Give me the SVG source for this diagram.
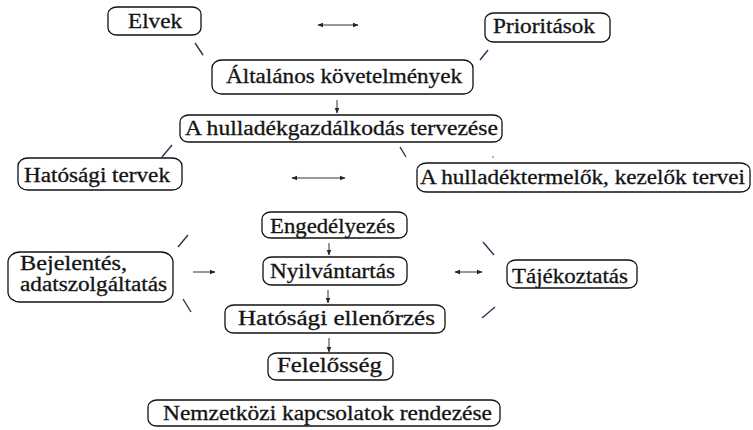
<svg xmlns="http://www.w3.org/2000/svg" width="753" height="430" viewBox="0 0 753 430">
  <defs>
    <marker id="head" viewBox="0 0 10 10" refX="9" refY="5" markerWidth="6" markerHeight="6" orient="auto-start-reverse" markerUnits="userSpaceOnUse">
      <path d="M0,1 L10,5 L0,9 Z" fill="#1a2340"/>
    </marker>
  </defs>
  <style>
    .box { fill: #ffffff; stroke: #111111; stroke-width: 1.3; }
    .lbl { font-family: "Liberation Serif", "Times New Roman", serif; font-size: 20px; fill: #141414; stroke: #141414; stroke-width: 0.3; }
    .tick { stroke: #2a3550; stroke-width: 1.4; fill: none; }
    .arr { stroke: #333333; stroke-width: 1; fill: none; marker-end: url(#head); }
    .arr2 { stroke: #333333; stroke-width: 1; fill: none; marker-start: url(#head); marker-end: url(#head); }
  </style>
  <rect width="753" height="430" fill="#ffffff"/>

  <g id="elvek">
    <rect class="box" x="108" y="7" width="93" height="28" rx="9" ry="7"/>
    <text class="lbl" x="128" y="28" textLength="54" lengthAdjust="spacingAndGlyphs">Elvek</text>
  </g>
  <g id="prioritasok">
    <rect class="box" x="485" y="13" width="125" height="29" rx="9" ry="7"/>
    <text class="lbl" x="493" y="33" textLength="102" lengthAdjust="spacingAndGlyphs">Prioritások</text>
  </g>
  <g id="altalanos">
    <rect class="box" x="212" y="60" width="261" height="34" rx="10" ry="8"/>
    <text class="lbl" x="226" y="83" textLength="236" lengthAdjust="spacingAndGlyphs">Általános követelmények</text>
  </g>
  <g id="tervezes">
    <rect class="box" x="180" y="115" width="322" height="27" rx="9" ry="7"/>
    <text class="lbl" x="185" y="135" textLength="313" lengthAdjust="spacingAndGlyphs">A hulladékgazdálkodás tervezése</text>
  </g>
  <g id="hatosagi-tervek">
    <rect class="box" x="18" y="158" width="164" height="32" rx="10" ry="8"/>
    <text class="lbl" x="24" y="182" textLength="146" lengthAdjust="spacingAndGlyphs">Hatósági tervek</text>
  </g>
  <g id="termelok">
    <rect class="box" x="417" y="163" width="333" height="29" rx="10" ry="7"/>
    <text class="lbl" x="420" y="184" textLength="325" lengthAdjust="spacingAndGlyphs">A hulladéktermelők, kezelők tervei</text>
  </g>
  <g id="engedelyezes">
    <rect class="box" x="262" y="212" width="145" height="26" rx="9" ry="7"/>
    <text class="lbl" x="270" y="233" textLength="125" lengthAdjust="spacingAndGlyphs">Engedélyezés</text>
  </g>
  <g id="nyilvantartas">
    <rect class="box" x="263" y="257" width="144" height="28" rx="9" ry="7"/>
    <text class="lbl" x="270" y="278" textLength="125" lengthAdjust="spacingAndGlyphs">Nyilvántartás</text>
  </g>
  <g id="ellenorzes">
    <rect class="box" x="225" y="305" width="220" height="28" rx="9" ry="7"/>
    <text class="lbl" x="238" y="325" textLength="197" lengthAdjust="spacingAndGlyphs">Hatósági ellenőrzés</text>
  </g>
  <g id="felelosseg">
    <rect class="box" x="268" y="353" width="125" height="27" rx="9" ry="7"/>
    <text class="lbl" x="277" y="372" textLength="105" lengthAdjust="spacingAndGlyphs">Felelősség</text>
  </g>
  <g id="nemzetkozi">
    <rect class="box" x="148" y="400" width="352" height="26" rx="9" ry="7"/>
    <text class="lbl" x="163" y="420" textLength="329" lengthAdjust="spacingAndGlyphs">Nemzetközi kapcsolatok rendezése</text>
  </g>
  <g id="bejelentes">
    <rect class="box" x="8" y="252" width="165" height="50" rx="12" ry="10"/>
    <text class="lbl" x="20" y="270" textLength="107" lengthAdjust="spacingAndGlyphs">Bejelentés,</text>
    <text class="lbl" x="20" y="291" textLength="147" lengthAdjust="spacingAndGlyphs">adatszolgáltatás</text>
  </g>
  <g id="tajekoztatas">
    <rect class="box" x="507" y="260" width="130" height="28" rx="9" ry="7"/>
    <text class="lbl" x="512" y="283" textLength="116" lengthAdjust="spacingAndGlyphs">Tájékoztatás</text>
  </g>

  <g id="connectors">
    <!-- arrows -->
    <line class="arr2" x1="318" y1="25" x2="358" y2="25"/>
    <line class="arr" x1="337" y1="100" x2="337" y2="113"/>
    <line class="arr2" x1="292" y1="178" x2="345" y2="178"/>
    <line class="arr" x1="329" y1="243" x2="329" y2="255"/>
    <line class="arr" x1="328" y1="290" x2="328" y2="303"/>
    <line class="arr" x1="329" y1="338" x2="329" y2="352"/>
    <line class="arr" x1="193" y1="272" x2="215" y2="272"/>
    <line class="arr2" x1="455" y1="272" x2="482" y2="272"/>
    <!-- short link strokes -->
    <line class="tick" x1="195" y1="43" x2="203" y2="55"/>
    <line class="tick" x1="488" y1="50" x2="480" y2="60"/>
    <line class="tick" x1="400" y1="147" x2="406" y2="157"/>
    <line class="tick" x1="172" y1="145" x2="162" y2="157"/>
    <line class="tick" x1="188" y1="235" x2="178" y2="247"/>
    <line class="tick" x1="183" y1="299" x2="191" y2="312"/>
    <line class="tick" x1="483" y1="242" x2="494" y2="255"/>
    <line class="tick" x1="495" y1="307" x2="482" y2="318"/>
    <circle cx="493" cy="157" r="0.8" fill="#555555"/>
  </g>
</svg>
